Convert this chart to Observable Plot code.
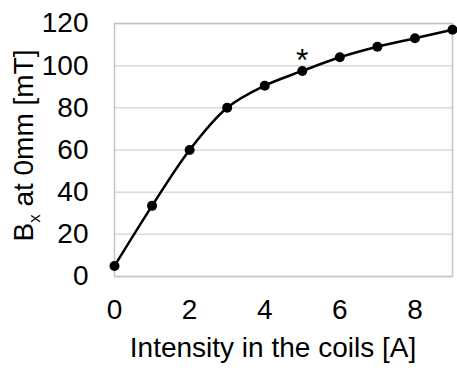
<!DOCTYPE html>
<html>
<head>
<meta charset="utf-8">
<script src="https://cdn.jsdelivr.net/npm/d3@7"></script>
<script src="https://cdn.jsdelivr.net/npm/@observablehq/plot@0.6"></script>
<style>
  html, body { margin: 0; padding: 0; background: #fff; }
</style>
</head>
<body>
<div id="chart"></div>
<script>
// Coil current (A) and the measured field Bx at 0 mm (mT)
const currents = [0, 1, 2, 3, 4, 5, 6, 7, 8, 9];
const fieldMT = [5, 33.5, 60, 80, 90.5, 97.5, 104, 109, 113, 117];

// Axis ticks and titles
const xTicks = [0, 2, 4, 6, 8];
const yTicks = [0, 20, 40, 60, 80, 100, 120];
const xTitle = "Intensity in the coils [A]";
const yTitleMain = "B";
const yTitleSub = "x";
const yTitleRest = " at 0mm [mT]";

// The highlighted measurement
const markedCurrents = [5];
const markSymbol = "*";

const data = currents.map((c, i) => ({current: c, field: fieldMT[i]}));
const marked = data.filter(d => markedCurrents.includes(d.current));

const font = "'Liberation Sans', Arial, Helvetica, sans-serif";

const chart = Plot.plot({
  width: 457,
  height: 374,
  marginLeft: 114,
  marginRight: 5,
  marginTop: 23,
  marginBottom: 98,
  style: {fontFamily: font, fontSize: "28px", background: "#fff", color: "#000"},
  x: {domain: [0, 9], ticks: xTicks, tickSize: 0, tickPadding: 23, label: null},
  y: {domain: [0, 120], ticks: yTicks, tickSize: 0, tickPadding: 26, label: null},
  marks: [
    Plot.ruleY(yTicks, {stroke: "#d9d9d9", strokeWidth: 1.5}),
    Plot.frame({stroke: "#c4c4c4", strokeWidth: 1.5}),
    Plot.line(data, {x: "current", y: "field", curve: "catmull-rom", stroke: "#000", strokeWidth: 2.5}),
    Plot.dot(data, {x: "current", y: "field", r: 5, fill: "#000"}),
    Plot.text(marked, {x: "current", y: "field", text: () => markSymbol, dy: -10, fontSize: 32, fill: "#000"})
  ]
});

const svg = d3.select(chart);

// x-axis title
svg.append("text")
  .attr("x", 273)
  .attr("y", 357)
  .attr("text-anchor", "middle")
  .attr("font-family", font)
  .attr("font-size", 28)
  .attr("fill", "#000")
  .text(xTitle);

// y-axis title with subscript
const yt = svg.append("text")
  .attr("transform", "translate(33,145.5) rotate(-90)")
  .attr("text-anchor", "middle")
  .attr("font-family", font)
  .attr("font-size", 28)
  .attr("fill", "#000");
yt.append("tspan").text(yTitleMain);
yt.append("tspan").attr("font-size", 17).attr("dy", 7).text(yTitleSub);
yt.append("tspan").attr("dy", -7).text(yTitleRest);

document.getElementById("chart").appendChild(chart);
</script>
</body>
</html>
